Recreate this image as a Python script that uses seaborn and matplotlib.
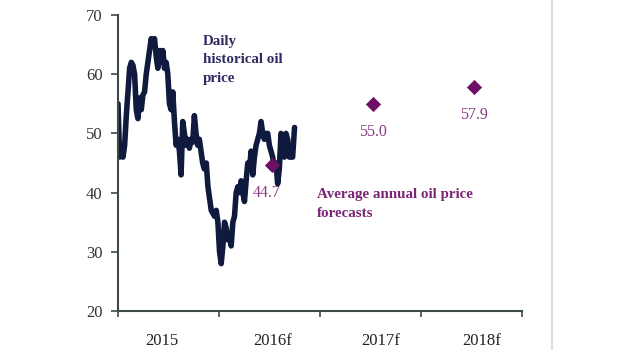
import numpy as np
import pandas as pd
import matplotlib
matplotlib.use("Agg")
import matplotlib.pyplot as plt
from matplotlib.lines import Line2D
import seaborn as sns

# ---- data ----
daily_start = "2015-01-01"
daily_end = "2016-09-30"
daily_price = [55, 46, 47, 46, 48, 53, 57, 61, 62, 61.5, 60, 54, 52.5, 56, 54, 56.5, 57,
               60, 62, 64, 66, 65, 66, 63, 61, 64, 62, 64, 61, 62, 60, 55, 54, 57, 52,
               48, 49, 47, 43, 52, 50, 48, 49, 47.5, 49, 48.5, 53, 50, 48, 49, 47, 45,
               44, 45, 41, 39, 37, 36.5, 36, 37, 35, 30, 28, 31, 35, 34, 32, 33, 31, 35,
               36, 40, 41, 40, 42, 40, 38.5, 42, 45, 44, 47, 43, 46, 48, 49, 50, 52, 50,
               49, 50, 50, 48, 47, 46, 44, 45, 41.5, 44, 50, 49, 46, 50, 49, 46, 46, 46, 51]
forecast_years = [2016, 2017, 2018]
forecast_values = [44.7, 55.0, 57.9]
year_ticks = [2015, 2016, 2017, 2018, 2019]
year_labels = ["2015", "2016f", "2017f", "2018f"]
y_ticks = [20, 30, 40, 50, 60, 70]

# ---- frames ----
dates = pd.date_range(daily_start, daily_end, periods=len(daily_price))
frac_year = dates.year + (dates.dayofyear - 1) / 365.0
daily_df = pd.DataFrame({"t": frac_year, "price": daily_price})
fc_df = pd.DataFrame({"t": np.array(forecast_years) + 0.52, "price": forecast_values})

sns.set_theme(style="white")
plt.rcParams["font.family"] = ["Liberation Serif", "DejaVu Serif"]

fig = plt.figure(figsize=(6.2, 3.55), dpi=100)
ax = fig.add_axes([118 / 620, 1 - 311 / 355, (522 - 118) / 620, (311 - 15) / 355])

sns.lineplot(data=daily_df, x="t", y="price", ax=ax, color="#101a3e", lw=4)
sns.scatterplot(data=fc_df, x="t", y="price", ax=ax, marker="D", s=60,
                color="#6d0f64", edgecolor="#6d0f64", linewidth=0, zorder=5)

for xv, yv, dx in zip(fc_df["t"], fc_df["price"], [-5, 0, 0]):
    ax.annotate(f"{yv:.1f}", (xv, yv), textcoords="offset pixels", xytext=(dx, -28),
                ha="center", va="center", fontsize=11.5, color="#8a3a83")

ax.text(2015.84, 66.7, "Daily\nhistorical oil\nprice", ha="left", va="top",
        fontsize=10.8, fontweight="bold", color="#2e2a62", linespacing=1.55)
ax.text(2016.97, 40.7, "Average annual oil price\nforecasts", ha="left", va="top",
        fontsize=10.8, fontweight="bold", color="#7b2574", linespacing=1.55)

ax.set_xlim(year_ticks[0], year_ticks[-1])
ax.set_ylim(y_ticks[0], y_ticks[-1])
ax.set_xticks(year_ticks)
ax.set_xticklabels([""] * len(year_ticks))
label_pos = [2015.43, 2016.53, 2017.6, 2018.6]
ax.set_xticks(label_pos, minor=True)
ax.set_xticklabels(year_labels, minor=True)
ax.set_yticks(y_ticks)
ax.set_xlabel("")
ax.set_ylabel("")

ax.tick_params(axis="x", which="major", direction="out", length=4, width=1.2,
               color="#3d4a4a", bottom=True)
ax.tick_params(axis="x", which="minor", length=0, pad=16, labelsize=12,
               labelcolor="#222222")
ax.tick_params(axis="y", direction="out", length=5, width=1.2, color="#3d4a4a",
               left=True, labelsize=12, labelcolor="#333333", pad=6)

for s in ["top", "right"]:
    ax.spines[s].set_visible(False)
for s in ["left", "bottom"]:
    ax.spines[s].set_color("#3d4a4a")
    ax.spines[s].set_linewidth(1.5)

fig.add_artist(Line2D([552 / 620, 552 / 620], [1 - 349 / 355, 1.0],
                      transform=fig.transFigure, color="#dcdcdc", lw=1.5))

fig.savefig("out.png", dpi=100)
